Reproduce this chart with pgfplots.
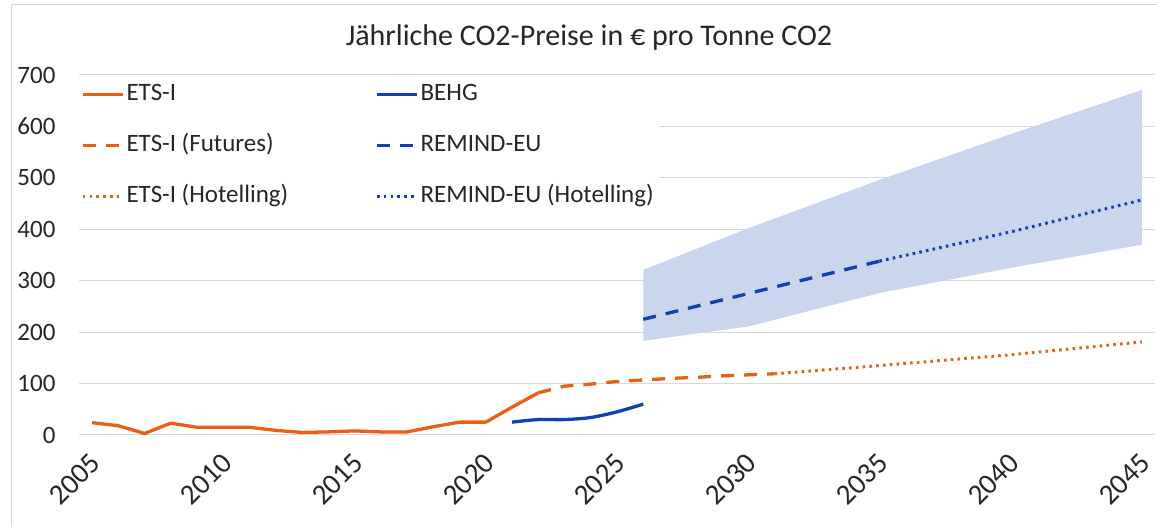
\documentclass[border=0pt]{standalone}
\usepackage{pgfplots}
\pgfplotsset{compat=1.18}
\usepackage{fontspec}
\setmainfont{Carlito}
\definecolor{ets}{RGB}{232,96,20}
\definecolor{behg}{RGB}{18,64,178}
\definecolor{band}{RGB}{201,214,237}
\definecolor{gridc}{RGB}{217,217,217}
\definecolor{txt}{RGB}{38,38,38}
\begin{document}
\begin{tikzpicture}[x=1pt,y=1pt]
\useasboundingbox (0,0) rectangle (1157,527);
\draw[gridc, line width=1pt] (11.5,0) -- (11.5,522) -- (1157,522);
\node[font=\fontsize{30}{36}\selectfont, text=txt] at (589,489) {Jährliche CO2-Preise in € pro Tonne CO2};
\begin{axis}[at={(79pt,92pt)}, anchor=south west, scale only axis,
  width=1076pt, height=360pt,
  xmin=2004.5, xmax=2045.5, ymin=0, ymax=700,
  xtick={2005,2010,...,2045}, ytick={0,100,...,700},
  axis line style={draw=none}, major tick length=0pt,
  ymajorgrids, grid style={gridc, line width=1pt},
  /pgf/number format/assume math mode=true, /pgf/number format/1000 sep={},
  tick label style={font=\fontsize{25}{30}\selectfont, text=txt},
  xticklabel style={font=\fontsize{29}{34}\selectfont, xshift=6pt, yshift=-21pt, rotate=45, anchor=east},
  yticklabel style={xshift=-20pt},
  legend columns=2,
  legend cell align=left,
  legend image code/.code={\draw[#1] (0pt,0pt) -- (40pt,0pt);},
  legend style={at={(0,1)}, anchor=north west, xshift=-1pt, yshift=-6pt,
    draw=none, fill=white, font=\fontsize{25}{30}\selectfont, text=txt,
    nodes={inner xsep=2pt, inner ysep=0pt, text height=17pt, text depth=5pt},
    /tikz/every even column/.append style={column sep=85pt},
    row sep=29pt},
]
% REMIND-EU range (band)
\addplot[draw=none, fill=band, forget plot] coordinates {
  (2026,183) (2030,211) (2035,276) (2040,325) (2045,370)
  (2045,671) (2040,585) (2035,496) (2030,402) (2026,321)} -- cycle;
% ETS-I
\addplot[ets, line width=3.3pt, line join=round] coordinates {
  (2005,24) (2006,18) (2007,3) (2008,23) (2009,15) (2010,15) (2011,15)
  (2012,9) (2013,5) (2014,6) (2015,8) (2016,6) (2017,6) (2018,16)
  (2019,25) (2020,25) (2021,54) (2022,82)};
\addlegendentry{ETS-I}
% BEHG
\addplot[behg, line width=3.3pt, line join=round, smooth] coordinates {
  (2021,25) (2022,30) (2023,30) (2024,34) (2025,45) (2026,60)};
\addlegendentry{BEHG}
% ETS-I Futures
\addplot[ets, line width=3.3pt, dash pattern=on 13pt off 10pt] coordinates {
  (2022,82) (2023,95) (2024,99) (2025,104) (2026,107) (2027,110)
  (2028,112) (2029,115) (2030,117) (2031,119)};
\addlegendentry{ETS-I (Futures)}
% REMIND-EU
\addplot[behg, line width=3.3pt, dash pattern=on 13pt off 10pt] coordinates {
  (2026,225) (2030,275) (2035,338)};
\addlegendentry{REMIND-EU}
% ETS-I Hotelling
\addplot[ets, line width=3pt, dash pattern=on 2.6pt off 4.2pt] coordinates {
  (2031,119) (2035,135) (2040,156) (2045,181)};
\addlegendentry{ETS-I (Hotelling)}
% REMIND-EU Hotelling
\addplot[behg, line width=3pt, dash pattern=on 2.6pt off 4.2pt] coordinates {
  (2035,338) (2040,395) (2045,457)};
\addlegendentry{REMIND-EU (Hotelling)}
\end{axis}
\end{tikzpicture}
\end{document}
